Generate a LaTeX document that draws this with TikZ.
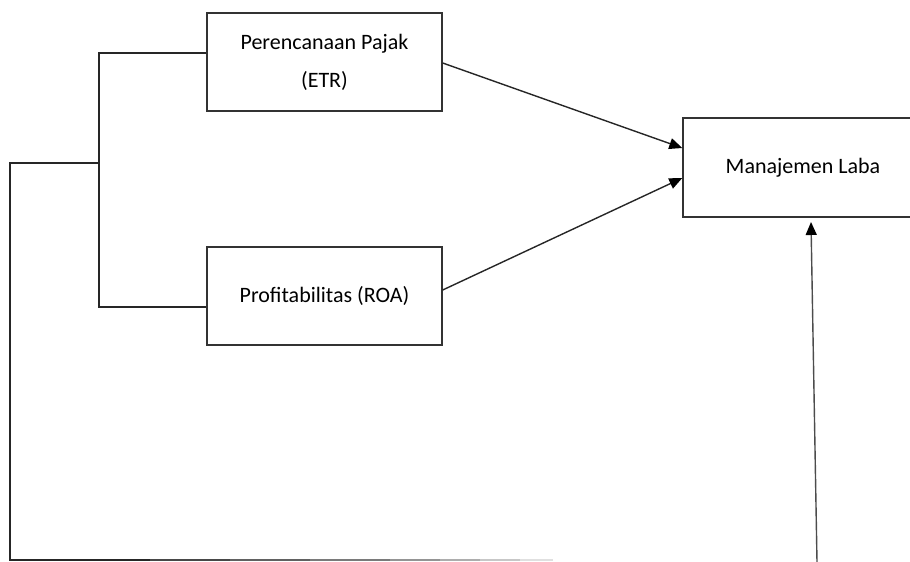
\documentclass[tikz,border=0pt]{standalone}
\usepackage{fontspec}
\setmainfont{Carlito}
\usetikzlibrary{arrows.meta}
\begin{document}
\begin{tikzpicture}[x=1pt,y=-1pt,
  box/.style={draw=black!80, line width=1.4pt, minimum width=235pt, minimum height=98pt, inner sep=0pt, align=center, font=\fontsize{22}{38}\selectfont, text=black},
  conn/.style={draw=black!85, line width=1.4pt},
  arr/.style={conn, -{Triangle[length=13pt,width=11pt,fill=black,color=black]}}]
\useasboundingbox (0,0) rectangle (910,562);
\node[box] (etr) at (324.5,62) {Perencanaan Pajak\\(ETR)};
\node[box] (roa) at (324.5,296) {Profitabilitas (ROA)};
\node[box, minimum width=240pt, minimum height=99pt] (ml) at (803,167.5) {Manajemen Laba};
% arrows into Manajemen Laba
\draw[arr] ([yshift=-1pt]etr.east) -- ([yshift=19.5pt]ml.west);
\draw[arr] ([yshift=6pt]roa.east) -- ([yshift=-10.5pt]ml.west);
% bracket
\coordinate (bt) at (99,53);
\coordinate (bb) at (99,307);
\coordinate (bm) at (99,163);
\coordinate (lt) at (10,163);
\coordinate (lb) at (10,560);
\coordinate (f1) at (150,560);
\coordinate (f2) at (230,560);
\coordinate (f3) at (310,560);
\coordinate (f4) at (390,560);
\coordinate (f5) at (440,560);
\coordinate (f6) at (480,560);
\coordinate (f7) at (520,560);
\coordinate (f8) at (553,560);
\coordinate (ab) at (817,562);
\coordinate (at) at (811,222);
\draw[conn] ([yshift=9pt]etr.west) -- (bt) -- (bb) -- ([yshift=-11pt]roa.west);
\draw[conn] (bm) -- (lt) -- (lb) -- (f1);
\draw[conn, draw=black!72] (f1) -- (f2);
\draw[conn, draw=black!62] (f2) -- (f3);
\draw[conn, draw=black!52] (f3) -- (f4);
\draw[conn, draw=black!42] (f4) -- (f5);
\draw[conn, draw=black!32] (f5) -- (f6);
\draw[conn, draw=black!22] (f6) -- (f7);
\draw[conn, draw=black!12] (f7) -- (f8);
\draw[arr, draw=black!70] (ab) -- (at);
\end{tikzpicture}
\end{document}
